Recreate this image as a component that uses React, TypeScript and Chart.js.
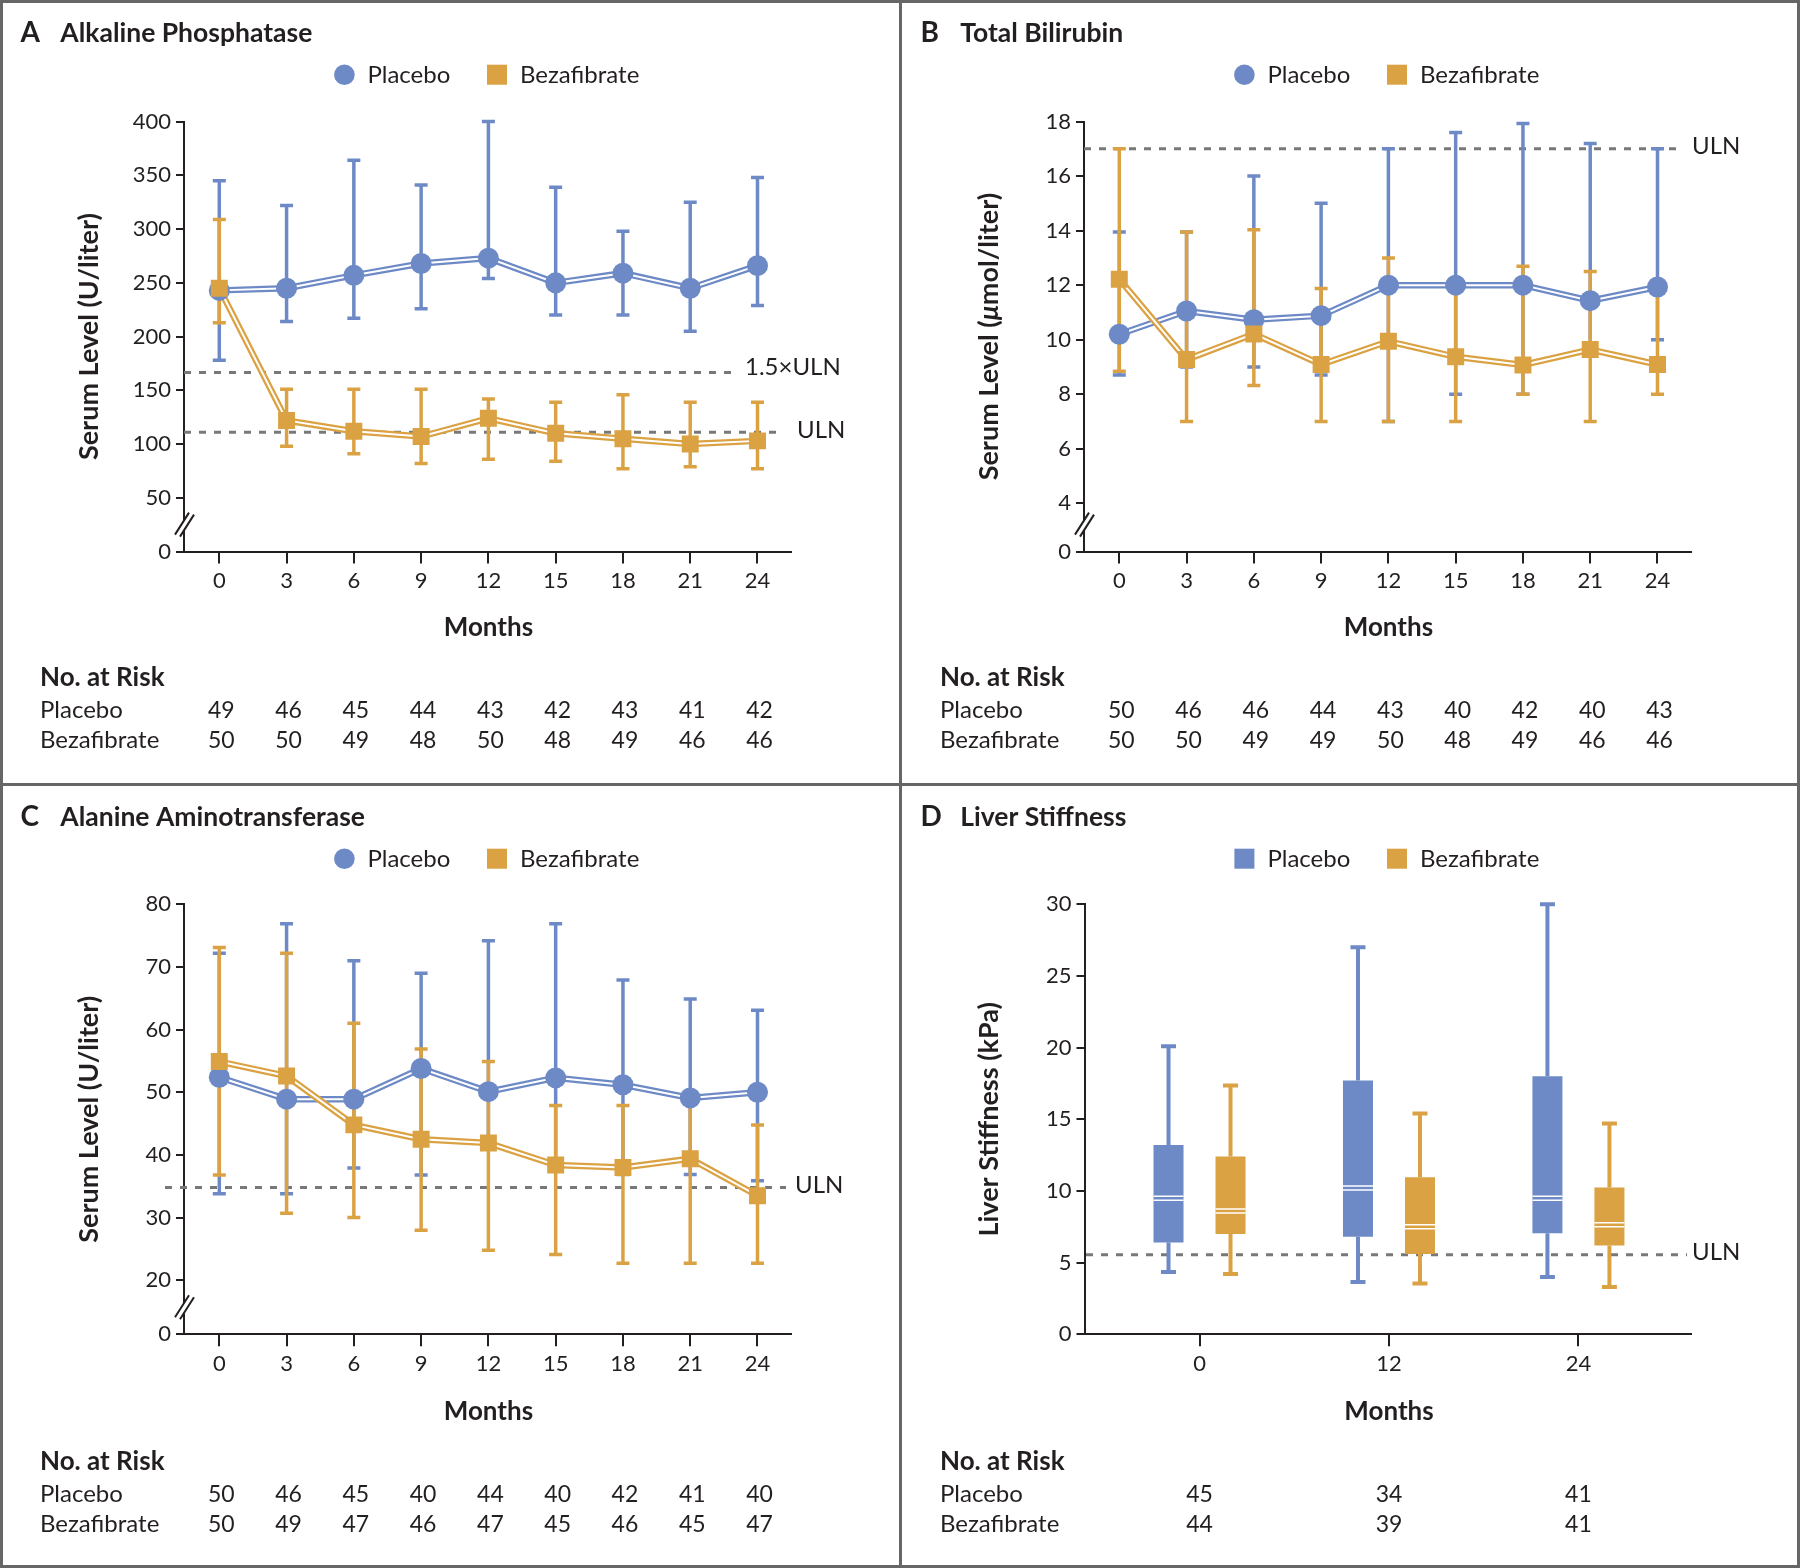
import React, { useEffect, useRef } from 'react';
import { Chart, registerables } from 'chart.js';

Chart.register(...registerables);

const FONT = "Lato, 'Open Sans', 'DejaVu Sans', sans-serif";
const INK = '#231f20';
const BLUE = '#6d8ac6';
const GOLD = '#dba244';
const DASH = '#787878';
const FRAME = '#666666';

const PANEL_W = 900;
const PANEL_H = 784;
const AXIS_LEFT = 184;
const AXIS_RIGHT = 791;

// ---------- shared ----------
const months = [0, 3, 6, 9, 12, 15, 18, 21, 24];
const groupLabels = ['Placebo', 'Bezafibrate'];

// ---------- A: Alkaline Phosphatase ----------
const alpPlacebo = [243, 245, 257, 268, 273, 250, 259, 245, 266];
const alpPlaceboLow = [178, 214, 217, 226, 254, 220, 220, 205, 229];
const alpPlaceboHigh = [345, 322, 364, 341, 400, 339, 298, 325, 348];
const alpBeza = [245, 122, 112, 107, 124, 110, 105, 100, 103];
const alpBezaLow = [213, 98, 91, 82, 86, 84, 77, 79, 77];
const alpBezaHigh = [309, 151, 151, 151, 142, 139, 146, 139, 139];
const alpRiskPlacebo = [49, 46, 45, 44, 43, 42, 43, 41, 42];
const alpRiskBeza = [50, 50, 49, 48, 50, 48, 49, 46, 46];
const alpYTicks = [0, 50, 100, 150, 200, 250, 300, 350, 400];
const alpUln = 111;
const alpUln15 = 166.5;

// ---------- B: Total Bilirubin ----------
const tbPlacebo = [10.2, 11.05, 10.73, 10.88, 12.0, 12.0, 12.0, 11.43, 11.93];
const tbPlaceboLow = [8.7, 9.0, 9.0, 8.7, 7.0, 8.0, 8.0, 9.8, 10.0];
const tbPlaceboHigh = [13.95, 13.95, 16.0, 15.0, 17.0, 17.6, 17.93, 17.2, 17.0];
const tbBeza = [12.22, 9.27, 10.21, 9.09, 9.94, 9.37, 9.07, 9.64, 9.09];
const tbBezaLow = [8.84, 7.0, 8.32, 7.0, 7.0, 7.0, 8.0, 7.0, 8.0];
const tbBezaHigh = [17.0, 13.95, 14.03, 11.88, 13.0, 12.2, 12.69, 12.5, 11.8];
const tbRiskPlacebo = [50, 46, 46, 44, 43, 40, 42, 40, 43];
const tbRiskBeza = [50, 50, 49, 49, 50, 48, 49, 46, 46];
const tbYTicks = [0, 4, 6, 8, 10, 12, 14, 16, 18];
const tbUln = 17;

// ---------- C: Alanine Aminotransferase ----------
const altPlacebo = [52.4, 48.9, 48.9, 53.8, 50.1, 52.3, 51.2, 49.1, 50.0];
const altPlaceboLow = [33.8, 33.8, 37.9, 36.8, 41.5, 38.0, 36.9, 36.9, 35.9];
const altPlaceboHigh = [72.2, 76.9, 71.0, 69.0, 74.2, 76.9, 67.9, 64.9, 63.1];
const altBeza = [54.9, 52.6, 44.8, 42.5, 41.9, 38.4, 38.0, 39.4, 33.5];
const altBezaLow = [36.8, 30.7, 30.0, 28.0, 24.8, 24.1, 22.7, 22.7, 22.7];
const altBezaHigh = [73.1, 72.2, 61.0, 56.9, 54.9, 47.9, 47.9, 48.5, 44.8];
const altRiskPlacebo = [50, 46, 45, 40, 44, 40, 42, 41, 40];
const altRiskBeza = [50, 49, 47, 46, 47, 45, 46, 45, 47];
const altYTicks = [0, 20, 30, 40, 50, 60, 70, 80];
const altUln = 34.8;

// ---------- D: Liver Stiffness ----------
const lsMonths = [0, 12, 24];
const lsPlaceboMin = [4.35, 3.65, 4.0];
const lsPlaceboQ1 = [6.4, 6.8, 7.05];
const lsPlaceboMedian = [9.5, 10.2, 9.5];
const lsPlaceboQ3 = [13.2, 17.7, 18.0];
const lsPlaceboMax = [20.1, 27.0, 30.0];
const lsBezaMin = [4.2, 3.55, 3.3];
const lsBezaQ1 = [7.0, 5.6, 6.2];
const lsBezaMedian = [8.6, 7.5, 7.65];
const lsBezaQ3 = [12.4, 10.95, 10.25];
const lsBezaMax = [17.35, 15.4, 14.7];
const lsRiskPlacebo = [45, 34, 41];
const lsRiskBeza = [44, 39, 41];
const lsYTicks = [0, 5, 10, 15, 20, 25, 30];
const lsUln = 5.55;

// ---------- helpers ----------
const pts = (xs: number[], ys: number[]) => xs.map((x, i) => ({ x, y: ys[i] }));

function setFont(ctx: CanvasRenderingContext2D, size: number, weight = 'normal', style = 'normal') {
  ctx.font = `${style} ${weight} ${size}px ${FONT}`;
}

function drawHeader(ctx: CanvasRenderingContext2D, letter: string, title: string, firstMarker: 'circle' | 'square') {
  ctx.save();
  ctx.fillStyle = INK;
  ctx.textAlign = 'left';
  ctx.textBaseline = 'alphabetic';
  setFont(ctx, 28, 'bold');
  ctx.fillText(letter, 20.5, 41.5);
  setFont(ctx, 26.5, 'bold');
  ctx.fillText(title, 60.3, 41.5);
  // legend
  const my = 74.7;
  ctx.fillStyle = BLUE;
  if (firstMarker === 'circle') {
    ctx.beginPath();
    ctx.arc(344.4, my, 10.3, 0, Math.PI * 2);
    ctx.fill();
  } else {
    ctx.fillRect(344.4 - 10, my - 10, 20, 20);
  }
  ctx.fillStyle = GOLD;
  ctx.fillRect(497 - 10, my - 10, 20, 20);
  ctx.fillStyle = INK;
  setFont(ctx, 24);
  ctx.fillText(groupLabels[0], 367.4, 82.7);
  ctx.fillText(groupLabels[1], 520, 82.7);
  ctx.restore();
}

function drawYTitle(ctx: CanvasRenderingContext2D, parts: { text: string; italic?: boolean }[], cx: number, cy: number) {
  ctx.save();
  ctx.translate(cx, cy);
  ctx.rotate(-Math.PI / 2);
  ctx.fillStyle = INK;
  ctx.textAlign = 'left';
  ctx.textBaseline = 'middle';
  const size = 27;
  const widths = parts.map((p) => {
    setFont(ctx, size, 'bold', p.italic ? 'italic' : 'normal');
    return ctx.measureText(p.text).width;
  });
  const total = widths.reduce((a, b) => a + b, 0);
  let x = -total / 2;
  parts.forEach((p, i) => {
    setFont(ctx, size, 'bold', p.italic ? 'italic' : 'normal');
    ctx.fillText(p.text, x, 0);
    x += widths[i];
  });
  ctx.restore();
}

function drawMonthsAndRisk(ctx: CanvasRenderingContext2D, xs: any, xVals: number[], riskP: number[], riskB: number[], dx: number) {
  ctx.save();
  ctx.fillStyle = INK;
  ctx.textBaseline = 'alphabetic';
  setFont(ctx, 26, 'bold');
  ctx.textAlign = 'center';
  ctx.fillText('Months', xs.getPixelForValue(12), 636);
  ctx.textAlign = 'left';
  ctx.fillText('No. at Risk', 40, 686);
  setFont(ctx, 24);
  ctx.fillText(groupLabels[0], 40, 718);
  ctx.fillText(groupLabels[1], 40, 748);
  setFont(ctx, 23);
  ctx.textAlign = 'center';
  xVals.forEach((m, i) => {
    const px = xs.getPixelForValue(m) + dx;
    ctx.fillText(String(riskP[i]), px, 718);
    ctx.fillText(String(riskB[i]), px, 748);
  });
  ctx.restore();
}

function drawRefLines(ctx: CanvasRenderingContext2D, ys: any, refs: any[]) {
  ctx.save();
  ctx.setLineDash([7, 8]);
  ctx.lineWidth = 3;
  ctx.strokeStyle = DASH;
  refs.forEach((r) => {
    const y = ys.getPixelForValue(r.value);
    ctx.beginPath();
    ctx.moveTo(r.x0, y);
    ctx.lineTo(r.x1, y);
    ctx.stroke();
  });
  ctx.restore();
}

function drawRefLabels(ctx: CanvasRenderingContext2D, ys: any, refs: any[]) {
  ctx.save();
  ctx.fillStyle = INK;
  setFont(ctx, 24);
  ctx.textAlign = 'left';
  ctx.textBaseline = 'middle';
  refs.forEach((r) => {
    const y = ys.getPixelForValue(r.value);
    ctx.fillText(r.label, r.labelX, y - r.lift);
  });
  ctx.restore();
}

function drawErrorBars(ctx: CanvasRenderingContext2D, xs: any, ys: any, xVals: number[], lo: number[], hi: number[], color: string) {
  ctx.save();
  ctx.strokeStyle = color;
  ctx.lineWidth = 3.5;
  ctx.lineCap = 'butt';
  xVals.forEach((m, i) => {
    const px = xs.getPixelForValue(m);
    const top = ys.getPixelForValue(hi[i]);
    const bot = ys.getPixelForValue(lo[i]);
    ctx.beginPath();
    ctx.moveTo(px, top);
    ctx.lineTo(px, bot);
    ctx.stroke();
    ctx.beginPath();
    ctx.moveTo(px - 6.5, top);
    ctx.lineTo(px + 6.5, top);
    ctx.moveTo(px - 6.5, bot);
    ctx.lineTo(px + 6.5, bot);
    ctx.stroke();
  });
  ctx.restore();
}

function drawAxisBreak(ctx: CanvasRenderingContext2D, left: number, bottom: number) {
  ctx.save();
  ctx.fillStyle = '#ffffff';
  ctx.fillRect(left - 3, bottom - 31, 6, 10);
  ctx.strokeStyle = INK;
  ctx.lineWidth = 2;
  ctx.beginPath();
  ctx.moveTo(left - 9, bottom - 17);
  ctx.lineTo(left + 5, bottom - 39);
  ctx.moveTo(left - 4, bottom - 15);
  ctx.lineTo(left + 10, bottom - 37);
  ctx.stroke();
  ctx.restore();
}

function axisStyle(tickLength: number) {
  return {
    grid: { display: true, drawOnChartArea: false, drawTicks: true, tickLength, tickColor: INK, tickWidth: 2, color: INK, lineWidth: 2 },
    border: { display: true, color: INK, width: 2 },
  };
}

// ---------- line panels ----------
function lineConfig(p: any) {
  const xScale = {
    type: 'linear',
    min: -1.574,
    max: 25.494,
    offset: false,
    afterBuildTicks: (s: any) => {
      s.ticks = months.map((v) => ({ value: v }));
    },
    afterFit: (s: any) => {
      s.height = PANEL_H - p.chartBottom;
    },
    ...axisStyle(12),
    ticks: { autoSkip: false, maxRotation: 0, padding: 4, color: INK, font: { family: FONT, size: 22 }, callback: (v: any) => String(v) },
  };
  const yScale = {
    type: 'linear',
    min: p.yMin,
    max: p.yMax,
    afterBuildTicks: (s: any) => {
      s.ticks = p.yTicks.map((v: number) => ({ value: v === 0 ? p.yMin : v }));
    },
    afterFit: (s: any) => {
      s.width = AXIS_LEFT;
    },
    ...axisStyle(8),
    ticks: {
      padding: 5,
      color: INK,
      font: { family: FONT, size: 22 },
      callback: (v: any, i: number) => String(p.yTicks[i]),
    },
  };
  const line = (data: number[], color: string, width: number, order: number) => ({
    data: pts(months, data),
    borderColor: color,
    borderWidth: width,
    pointRadius: 0,
    tension: 0,
    fill: false,
    order,
  });
  const plugin = {
    id: 'linePanelDecor',
    beforeDatasetsDraw(chart: any) {
      const ctx = chart.ctx;
      const xs = chart.scales.x;
      const ys = chart.scales.y;
      drawRefLines(ctx, ys, p.refs);
      drawErrorBars(ctx, xs, ys, months, p.placeboLow, p.placeboHigh, BLUE);
      drawErrorBars(ctx, xs, ys, months, p.bezaLow, p.bezaHigh, GOLD);
    },
    afterDraw(chart: any) {
      const ctx = chart.ctx;
      const xs = chart.scales.x;
      const ys = chart.scales.y;
      const ca = chart.chartArea;
      drawHeader(ctx, p.letter, p.title, 'circle');
      drawRefLabels(ctx, ys, p.refs);
      drawYTitle(ctx, p.yTitle, 89, (ca.top + ca.bottom) / 2);
      drawMonthsAndRisk(ctx, xs, months, p.riskPlacebo, p.riskBeza, 2);
      drawAxisBreak(ctx, ca.left, ca.bottom);
    },
  };
  return {
    type: 'line',
    data: {
      datasets: [
        { data: pts(months, p.beza), showLine: false, pointStyle: 'rect', pointRadius: 12, pointBackgroundColor: GOLD, pointBorderColor: GOLD, pointBorderWidth: 0, order: 0 },
        { data: pts(months, p.placebo), showLine: false, pointStyle: 'circle', pointRadius: 10.5, pointBackgroundColor: BLUE, pointBorderColor: BLUE, pointBorderWidth: 0, order: 1 },
        line(p.beza, '#ffffff', 2, 2),
        line(p.beza, GOLD, 6.5, 3),
        line(p.placebo, '#ffffff', 2, 4),
        line(p.placebo, BLUE, 6.5, 5),
      ],
    },
    options: {
      animation: false,
      responsive: false,
      events: [],
      layout: { padding: { left: 0, top: p.chartTop, right: PANEL_W - AXIS_RIGHT, bottom: 0 } },
      plugins: { legend: { display: false }, tooltip: { enabled: false }, title: { display: false } },
      scales: { x: xScale, y: yScale },
    },
    plugins: [plugin],
  };
}

const panelA = {
  letter: 'A',
  title: 'Alkaline Phosphatase',
  yTitle: [{ text: 'Serum Level (U/liter)' }],
  yMin: 0,
  yMax: 400,
  yTicks: alpYTicks,
  chartTop: 121.6,
  chartBottom: 551.6,
  placebo: alpPlacebo,
  placeboLow: alpPlaceboLow,
  placeboHigh: alpPlaceboHigh,
  beza: alpBeza,
  bezaLow: alpBezaLow,
  bezaHigh: alpBezaHigh,
  riskPlacebo: alpRiskPlacebo,
  riskBeza: alpRiskBeza,
  refs: [
    { value: alpUln15, label: '1.5×ULN', x0: 184, x1: 738, labelX: 745, lift: 5 },
    { value: alpUln, label: 'ULN', x0: 184, x1: 784, labelX: 797, lift: 2 },
  ],
};

const panelB = {
  letter: 'B',
  title: 'Total Bilirubin',
  yTitle: [{ text: 'Serum Level (' }, { text: 'μ', italic: true }, { text: 'mol/liter)' }],
  yMin: 2.224,
  yMax: 18,
  yTicks: tbYTicks,
  chartTop: 121.6,
  chartBottom: 551.6,
  placebo: tbPlacebo,
  placeboLow: tbPlaceboLow,
  placeboHigh: tbPlaceboHigh,
  beza: tbBeza,
  bezaLow: tbBezaLow,
  bezaHigh: tbBezaHigh,
  riskPlacebo: tbRiskPlacebo,
  riskBeza: tbRiskBeza,
  refs: [{ value: tbUln, label: 'ULN', x0: 184, x1: 784, labelX: 792, lift: 3 }],
};

const panelC = {
  letter: 'C',
  title: 'Alanine Aminotransferase',
  yTitle: [{ text: 'Serum Level (U/liter)' }],
  yMin: 11.38,
  yMax: 80,
  yTicks: altYTicks,
  chartTop: 120.3,
  chartBottom: 550.3,
  placebo: altPlacebo,
  placeboLow: altPlaceboLow,
  placeboHigh: altPlaceboHigh,
  beza: altBeza,
  bezaLow: altBezaLow,
  bezaHigh: altBezaHigh,
  riskPlacebo: altRiskPlacebo,
  riskBeza: altRiskBeza,
  refs: [{ value: altUln, label: 'ULN', x0: 165, x1: 786, labelX: 795, lift: 2 }],
};

// ---------- box panel ----------
function boxConfig() {
  const chartTop = 120.3;
  const chartBottom = 550.3;
  const refs = [{ value: lsUln, label: 'ULN', x0: 186, x1: 787, labelX: 792, lift: 2 }];
  const boxData = (q1: number[], q3: number[]) => lsMonths.map((m, i) => ({ x: m, y: [q1[i], q3[i]] }));
  const whiskers = (ctx: any, meta: any, ys: any, lo: number[], q1: number[], q3: number[], hi: number[], color: string) => {
    ctx.save();
    ctx.strokeStyle = color;
    ctx.lineWidth = 4;
    meta.data.forEach((el: any, i: number) => {
      const x = el.x;
      const pHi = ys.getPixelForValue(hi[i]);
      const pLo = ys.getPixelForValue(lo[i]);
      ctx.beginPath();
      ctx.moveTo(x, ys.getPixelForValue(q3[i]));
      ctx.lineTo(x, pHi);
      ctx.moveTo(x, ys.getPixelForValue(q1[i]));
      ctx.lineTo(x, pLo);
      ctx.stroke();
      ctx.beginPath();
      ctx.moveTo(x - 7.5, pHi);
      ctx.lineTo(x + 7.5, pHi);
      ctx.moveTo(x - 7.5, pLo);
      ctx.lineTo(x + 7.5, pLo);
      ctx.stroke();
    });
    ctx.restore();
  };
  const medians = (ctx: any, meta: any, ys: any, med: number[]) => {
    ctx.save();
    ctx.strokeStyle = '#ffffff';
    ctx.lineWidth = 1.5;
    meta.data.forEach((el: any, i: number) => {
      const y = ys.getPixelForValue(med[i]);
      const half = el.width / 2;
      ctx.beginPath();
      ctx.moveTo(el.x - half, y - 2);
      ctx.lineTo(el.x + half, y - 2);
      ctx.moveTo(el.x - half, y + 2);
      ctx.lineTo(el.x + half, y + 2);
      ctx.stroke();
    });
    ctx.restore();
  };
  const plugin = {
    id: 'boxPanelDecor',
    beforeDatasetsDraw(chart: any) {
      const ctx = chart.ctx;
      const ys = chart.scales.y;
      drawRefLines(ctx, ys, refs);
      whiskers(ctx, chart.getDatasetMeta(0), ys, lsPlaceboMin, lsPlaceboQ1, lsPlaceboQ3, lsPlaceboMax, BLUE);
      whiskers(ctx, chart.getDatasetMeta(1), ys, lsBezaMin, lsBezaQ1, lsBezaQ3, lsBezaMax, GOLD);
    },
    afterDatasetsDraw(chart: any) {
      const ctx = chart.ctx;
      const ys = chart.scales.y;
      medians(ctx, chart.getDatasetMeta(0), ys, lsPlaceboMedian);
      medians(ctx, chart.getDatasetMeta(1), ys, lsBezaMedian);
    },
    afterDraw(chart: any) {
      const ctx = chart.ctx;
      const xs = chart.scales.x;
      const ys = chart.scales.y;
      const ca = chart.chartArea;
      drawHeader(ctx, 'D', 'Liver Stiffness', 'square');
      drawRefLabels(ctx, ys, refs);
      drawYTitle(ctx, [{ text: 'Liver Stiffness (kPa)' }], 89, (ca.top + ca.bottom) / 2);
      drawMonthsAndRisk(ctx, xs, lsMonths, lsRiskPlacebo, lsRiskBeza, 0);
    },
  };
  return {
    type: 'bar',
    data: {
      datasets: [
        { label: groupLabels[0], data: boxData(lsPlaceboQ1, lsPlaceboQ3), backgroundColor: BLUE, borderWidth: 0, categoryPercentage: 0.6545, barPercentage: 0.484 },
        { label: groupLabels[1], data: boxData(lsBezaQ1, lsBezaQ3), backgroundColor: GOLD, borderWidth: 0, categoryPercentage: 0.6545, barPercentage: 0.484 },
      ],
    },
    options: {
      animation: false,
      responsive: false,
      events: [],
      layout: { padding: { left: 0, top: chartTop, right: PANEL_W - AXIS_RIGHT, bottom: 0 } },
      plugins: { legend: { display: false }, tooltip: { enabled: false }, title: { display: false } },
      scales: {
        x: {
          type: 'linear',
          min: -7.285,
          max: 31.13,
          offset: false,
          afterBuildTicks: (s: any) => {
            s.ticks = lsMonths.map((v) => ({ value: v }));
          },
          afterFit: (s: any) => {
            s.height = PANEL_H - chartBottom;
          },
          ...axisStyle(12),
          grid: { display: true, offset: false, drawOnChartArea: false, drawTicks: true, tickLength: 12, tickColor: INK, tickWidth: 2, color: INK, lineWidth: 2 },
          ticks: { autoSkip: false, maxRotation: 0, padding: 4, color: INK, font: { family: FONT, size: 22 }, callback: (v: any) => String(v) },
        },
        y: {
          type: 'linear',
          min: 0,
          max: 30,
          afterBuildTicks: (s: any) => {
            s.ticks = lsYTicks.map((v) => ({ value: v }));
          },
          afterFit: (s: any) => {
            s.width = AXIS_LEFT + 0.5;
          },
          ...axisStyle(8),
          ticks: { padding: 5, color: INK, font: { family: FONT, size: 22 }, callback: (v: any) => String(v) },
        },
      },
    },
    plugins: [plugin],
  };
}

function ChartCanvas({ build, left, top }: { build: () => any; left: number; top: number }) {
  const ref = useRef<HTMLCanvasElement | null>(null);
  useEffect(() => {
    if (!ref.current) return;
    const chart = new Chart(ref.current, build());
    return () => chart.destroy();
  }, []);
  return (
    <canvas
      ref={ref}
      width={PANEL_W}
      height={PANEL_H}
      style={{ position: 'absolute', left, top, width: PANEL_W, height: PANEL_H, display: 'block' }}
    />
  );
}

export default function App() {
  const bar = (s: React.CSSProperties) => <div style={{ position: 'absolute', background: FRAME, ...s }} />;
  return (
    <div style={{ position: 'absolute', left: 0, top: 0, width: 1800, height: 1568, background: '#ffffff', overflow: 'hidden' }}>
      <ChartCanvas build={() => lineConfig(panelA)} left={0} top={0} />
      <ChartCanvas build={() => lineConfig(panelB)} left={900} top={0} />
      <ChartCanvas build={() => lineConfig(panelC)} left={0} top={784} />
      <ChartCanvas build={() => boxConfig()} left={900} top={784} />
      {bar({ left: 0, top: 0, width: 1800, height: 3 })}
      {bar({ left: 0, top: 1565, width: 1800, height: 3 })}
      {bar({ left: 0, top: 0, width: 3, height: 1568 })}
      {bar({ left: 1797, top: 0, width: 3, height: 1568 })}
      {bar({ left: 898.5, top: 0, width: 3, height: 1568 })}
      {bar({ left: 0, top: 782.5, width: 1800, height: 3 })}
    </div>
  );
}
